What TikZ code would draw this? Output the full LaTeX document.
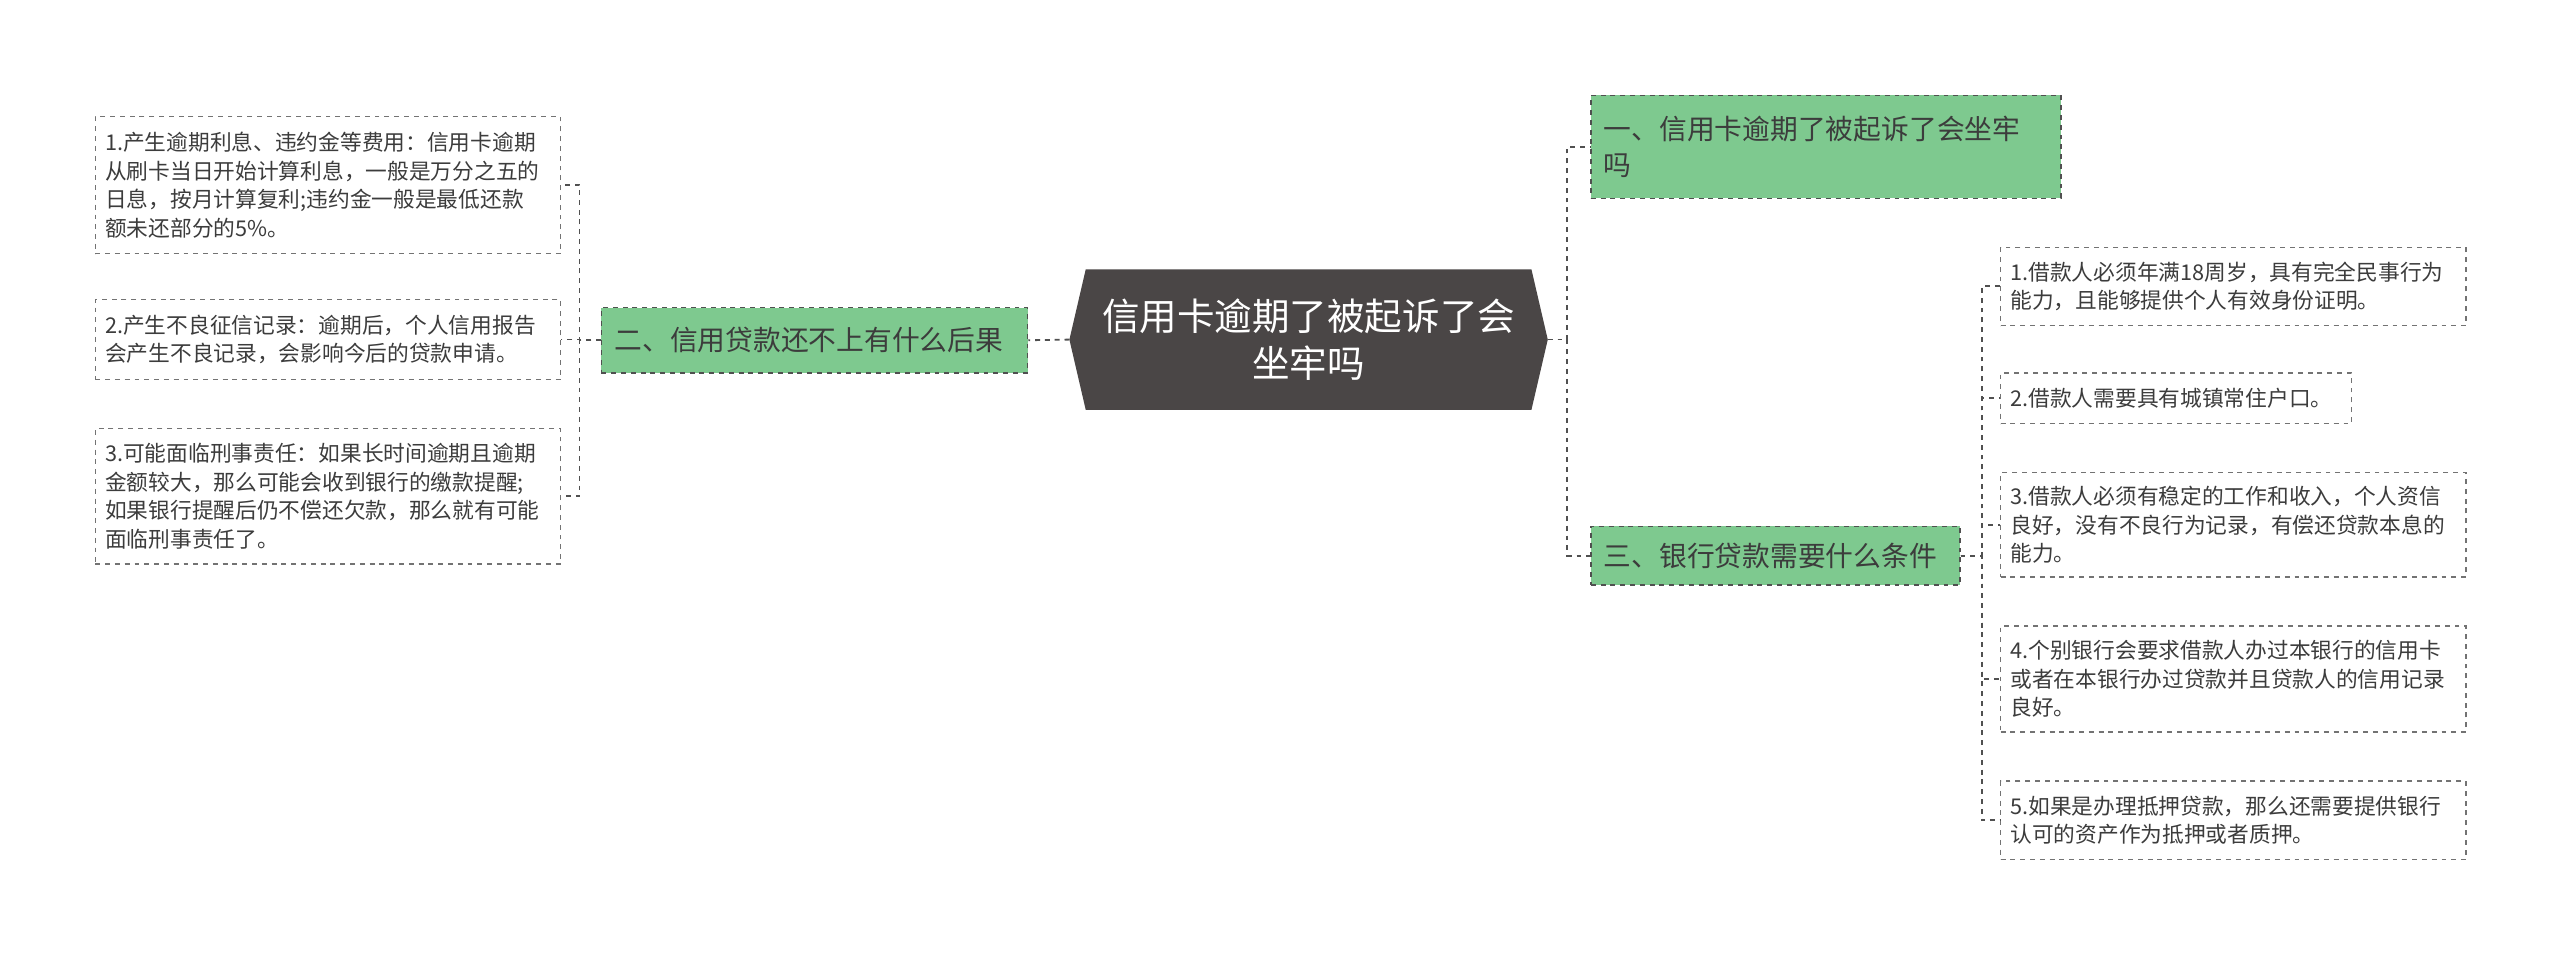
\documentclass[tikz,border=0pt]{standalone}
\usepackage{fontspec}
\newfontfamily\cjk{Noto Sans CJK SC}
\definecolor{grn}{RGB}{126,201,143}
\definecolor{dark}{RGB}{74,70,70}
\definecolor{txt}{RGB}{60,60,60}
\definecolor{ln}{RGB}{80,80,80}
\tikzset{
 leaf/.style={draw=ln!80,dashed,fill=white,anchor=north west,inner xsep=6pt,inner ysep=0pt,align=left,text=txt,font=\cjk\fontsize{13.3}{17.5}\selectfont,line width=0.8pt},
 topic/.style={draw=ln,dashed,fill=grn,anchor=north west,inner xsep=8pt,inner ysep=0pt,align=left,text=txt,font=\cjk\fontsize{17}{22}\selectfont,line width=0.8pt},
 con/.style={draw=ln,dashed,line width=1.1pt}
}
\begin{document}
\begin{tikzpicture}[x=1pt,y=-1pt]
\fill[white] (0,0) rectangle (1568,585);
\useasboundingbox (0,0) rectangle (1568,585);
% center
\fill[dark] (655,208)--(665,165)--(938,165)--(948,208)--(938,251)--(665,251)--cycle;
\node[text=white,align=center,font=\cjk\fontsize{23}{29}\selectfont] (c) at (801.5,208) {信用卡逾期了被起诉了会\\坐牢吗};
\coordinate (cl) at (655,208); \coordinate (cr) at (948,208);
% topics
\node[topic,text width=272pt,minimum height=63pt] (t1) at (974,58) {一、信用卡逾期了被起诉了会坐牢\\吗};
\node[topic,text width=210pt,minimum height=36pt] (t3) at (974,322) {三、银行贷款需要什么条件};
\node[topic,text width=245pt,minimum height=40pt] (t2) at (368,188) {二、信用贷款还不上有什么后果};
% left leaves
\node[leaf,text width=273pt,minimum height=84pt] (l1) at (58,71) {1.产生逾期利息、违约金等费用：信用卡逾期\\从刷卡当日开始计算利息，一般是万分之五的\\日息，按月计算复利;违约金一般是最低还款\\额未还部分的5\%。};
\node[leaf,text width=273pt,minimum height=49pt] (l2) at (58,183) {2.产生不良征信记录：逾期后，个人信用报告\\会产生不良记录，会影响今后的贷款申请。};
\node[leaf,text width=273pt,minimum height=83pt] (l3) at (58,262) {3.可能面临刑事责任：如果长时间逾期且逾期\\金额较大，那么可能会收到银行的缴款提醒;\\如果银行提醒后仍不偿还欠款，那么就有可能\\面临刑事责任了。};
% right leaves
\node[leaf,text width=273pt,minimum height=48pt] (r1) at (1225,151) {1.借款人必须年满18周岁，具有完全民事行为\\能力，且能够提供个人有效身份证明。};
\node[leaf,text width=203pt,minimum height=31pt] (r2) at (1225,228) {2.借款人需要具有城镇常住户口。};
\node[leaf,text width=273pt,minimum height=64pt] (r3) at (1225,289) {3.借款人必须有稳定的工作和收入，个人资信\\良好，没有不良行为记录，有偿还贷款本息的\\能力。};
\node[leaf,text width=273pt,minimum height=65pt] (r4) at (1225,383) {4.个别银行会要求借款人办过本银行的信用卡\\或者在本银行办过贷款并且贷款人的信用记录\\良好。};
\node[leaf,text width=273pt,minimum height=48pt] (r5) at (1225,478) {5.如果是办理抵押贷款，那么还需要提供银行\\认可的资产作为抵押或者质押。};
% connectors
\draw[con] (cl) -- (t2.east);
\draw[con] (cr) -- ++(12,0) |- (t1.west);
\draw[con] (cr) -- ++(12,0) |- (t3.west);
\foreach \n in {l1,l2,l3} \draw[con] (t2.west) -- ++(-13,0) |- (\n.east);
\foreach \n in {r1,r2,r3,r4,r5} \draw[con] (t3.east) -- ++(13,0) |- (\n.west);
\end{tikzpicture}
\end{document}
